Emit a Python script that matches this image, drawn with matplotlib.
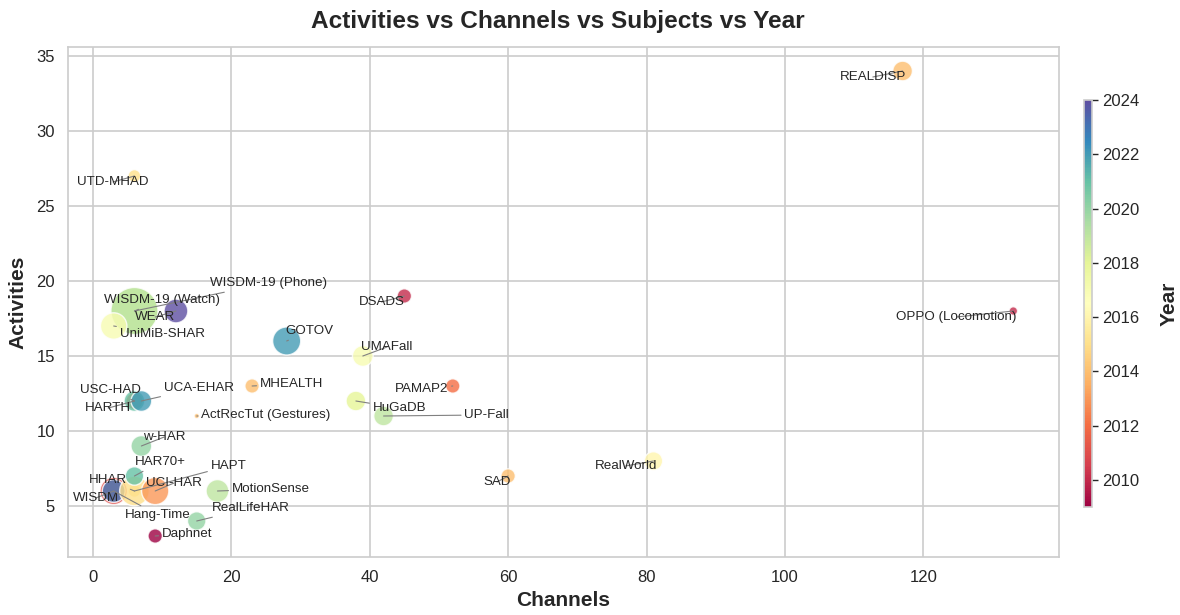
import matplotlib
matplotlib.use("Agg")
import matplotlib.pyplot as plt
import numpy as np
import seaborn as sns
from matplotlib.colors import Normalize

sns.set_theme(style="whitegrid")
plt.rcParams["font.family"] = ["Liberation Sans", "DejaVu Sans"]

# Dataset table
datasets = ["USC-HAD", "HARTH", "UCA-EHAR", "WISDM", "Hang-Time", "HHAR", "HAPT",
            "UCI-HAR", "HAR70+", "w-HAR", "WISDM-19 (Phone)", "WISDM-19 (Watch)",
            "WEAR", "UniMiB-SHAR", "GOTOV", "DSADS", "UMAFall", "MHEALTH", "PAMAP2",
            "HuGaDB", "UP-Fall", "ActRecTut (Gestures)", "MotionSense", "RealLifeHAR",
            "Daphnet", "SAD", "RealWorld", "OPPO (Locomotion)", "REALDISP", "UTD-MHAD"]
channels = [6, 6, 7, 3, 3, 6, 6, 9, 6, 7, 6, 6, 12, 3, 28, 45, 39, 23, 52,
            38, 42, 15, 18, 15, 9, 60, 81, 133, 117, 6]
activities = [12, 12, 12, 6, 6, 6, 6, 6, 7, 9, 18, 18, 18, 17, 16, 19, 15, 13, 13,
              12, 11, 11, 6, 4, 3, 7, 8, 18, 34, 27]
subjects = [8, 11, 11, 18, 13, 5, 21, 18, 9, 11, 51, 51, 14, 17, 19, 6, 11, 6, 6,
            10, 10, 2, 13, 9, 6, 6, 9, 3, 10, 5]
years = [2012, 2021, 2022, 2011, 2023, 2015, 2015, 2013, 2021, 2020, 2019, 2019,
         2024, 2017, 2022, 2010, 2017, 2014, 2012, 2018, 2019, 2014, 2019, 2020,
         2009, 2014, 2016, 2010, 2014, 2015]

# Label placement (data coordinates) for each dataset name
label_pos = {
    "REALDISP": (112.7, 33.6), "UTD-MHAD": (2.9, 26.6),
    "WISDM-19 (Phone)": (25.4, 19.87), "WISDM-19 (Watch)": (10.0, 18.73),
    "WEAR": (9.0, 17.6), "UniMiB-SHAR": (10.0, 16.47), "GOTOV": (31.3, 16.67),
    "DSADS": (41.7, 18.6), "UMAFall": (42.5, 15.6), "MHEALTH": (28.7, 13.13),
    "PAMAP2": (47.5, 12.8), "HuGaDB": (44.3, 11.53), "UP-Fall": (56.9, 11.07),
    "USC-HAD": (2.6, 12.73), "UCA-EHAR": (15.3, 12.87), "HARTH": (2.2, 11.53),
    "ActRecTut (Gestures)": (25.0, 11.07), "w-HAR": (10.3, 9.6),
    "HAR70+": (9.7, 7.93), "HAPT": (19.6, 7.67), "UCI-HAR": (11.7, 6.53),
    "HHAR": (2.2, 6.73), "WISDM": (0.4, 5.53), "Hang-Time": (9.4, 4.4),
    "MotionSense": (25.7, 6.13), "RealLifeHAR": (22.8, 4.87),
    "Daphnet": (13.6, 3.13), "SAD": (58.4, 6.6), "RealWorld": (77.0, 7.67),
    "OPPO (Locomotion)": (124.8, 17.6),
}

fig = plt.figure(figsize=(11.8, 6.15), dpi=100)
ax = fig.add_axes([68 / 1180, 1 - 557 / 615, (1059 - 68) / 1180, (557 - 47) / 615])
cax = fig.add_axes([1084 / 1180, 1 - 507 / 615, 8 / 1180, (507 - 100) / 615])

cmap = plt.get_cmap("Spectral")
norm = Normalize(vmin=2009, vmax=2024)

# Bubble area grows linearly with the number of subjects
subj = np.array(subjects, dtype=float)
smin, smax = 14, 1150
sizes = smin + (subj - subj.min()) / (subj.max() - subj.min()) * (smax - smin)

ax.scatter(channels, activities, s=sizes, c=years, cmap=cmap, norm=norm,
           alpha=0.8, edgecolors="white", linewidths=1.0, zorder=3)

for name, x, y in zip(datasets, channels, activities):
    tx, ty = label_pos[name]
    ax.annotate(name, xy=(x, y), xytext=(tx, ty), ha="center", va="center",
                fontsize=9.6, color="#262626", zorder=5,
                arrowprops=dict(arrowstyle="-", color="gray", lw=0.8,
                                shrinkA=0, shrinkB=0))

ax.set_xlim(-3.6, 139.6)
ax.set_ylim(1.6, 35.6)
ax.set_xticks([0, 20, 40, 60, 80, 100, 120])
ax.set_yticks([5, 10, 15, 20, 25, 30, 35])
ax.tick_params(labelsize=12, colors="#262626")
for sp in ax.spines.values():
    sp.set_color("#cccccc")
    sp.set_linewidth(1.2)
ax.grid(True, color="#cccccc", linewidth=1.2)
ax.set_xlabel("Channels", fontsize=15, fontweight="bold", labelpad=4)
ax.set_ylabel("Activities", fontsize=15, fontweight="bold", labelpad=6)
ax.set_title("Activities vs Channels vs Subjects vs Year", fontsize=17.6,
             fontweight="bold", pad=14, x=0.494)

sm = plt.cm.ScalarMappable(cmap=cmap, norm=norm)
cb = fig.colorbar(sm, cax=cax)
cb.set_ticks([2010, 2012, 2014, 2016, 2018, 2020, 2022, 2024])
cb.ax.tick_params(labelsize=12, length=4, width=1, colors="#262626")
cb.outline.set_edgecolor("#cccccc")
cb.outline.set_linewidth(1.2)
cb.set_label("Year", fontsize=15, fontweight="bold", labelpad=14)

fig.savefig("out.png", dpi=100)
